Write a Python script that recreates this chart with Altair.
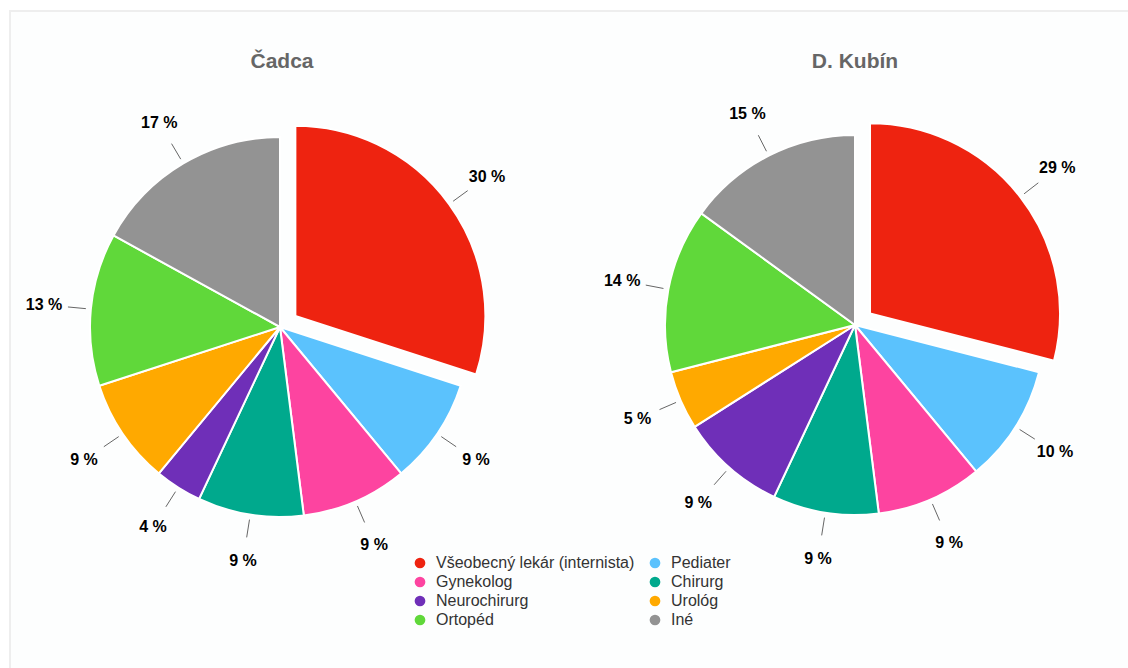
import altair as alt
import pandas as pd

cities = ["Čadca", "D. Kubín"]
categories = ["Všeobecný lekár (internista)", "Pediater", "Gynekolog", "Chirurg",
              "Neurochirurg", "Urológ", "Ortopéd", "Iné"]
cadca_values = [30, 9, 9, 9, 4, 9, 13, 17]
kubin_values = [29, 10, 9, 9, 9, 5, 14, 15]
colors = ["#ee2310", "#5bc2fd", "#fd44a0", "#00a98d", "#6f2fb8", "#ffa900", "#60d83a", "#939393"]

rows = []
for city, vals in zip(cities, [cadca_values, kubin_values]):
    for j, (cat, v) in enumerate(zip(categories, vals)):
        rows.append({"city": city, "cat": cat, "ord": j, "value": v})
df = pd.DataFrame(rows)

# legend fills column by column: reorder so it reads row by row like the original
legend_order = categories[0::2] + categories[1::2]
legend_colors = [colors[categories.index(c)] for c in legend_order]

FONT = "Liberation Sans"
R = 190
EXPLODE = 19
first = categories[0]

base = (
    alt.Chart(df)
    .transform_joinaggregate(total="sum(value)", groupby=["city"])
    .transform_window(cum="sum(value)", sort=[alt.SortField("ord")], groupby=["city"], frame=[None, 0])
    .transform_calculate(f0="(datum.cum - datum.value) / datum.total")
    .transform_calculate(f1="datum.cum / datum.total")
    .transform_calculate(mid="PI * (datum.f0 + datum.f1)")
    .transform_calculate(cx="datum.city == 'Čadca' ? 280 : 855")
    .transform_calculate(cy="datum.city == 'Čadca' ? 327 : 325")
    .transform_calculate(ex=f"datum.cat == '{first}' ? {EXPLODE} : 0")
    .transform_calculate(px="datum.cx + datum.ex * sin(datum.mid)")
    .transform_calculate(py="datum.cy - datum.ex * cos(datum.mid)")
    .transform_calculate(lx="datum.px + 237 * sin(datum.mid)")
    .transform_calculate(ly="datum.py - 237 * cos(datum.mid)")
    .transform_calculate(c0x="datum.px + 195 * sin(datum.mid)")
    .transform_calculate(c0y="datum.py - 195 * cos(datum.mid)")
    .transform_calculate(c1x="datum.px + 213 * sin(datum.mid)")
    .transform_calculate(c1y="datum.py - 213 * cos(datum.mid)")
    .transform_calculate(label="datum.value + ' %'")
)

arcs = base.mark_arc(outerRadius=R, stroke="white", strokeWidth=2).encode(
    theta=alt.Theta("f0:Q", scale=alt.Scale(domain=[0, 1], range=[0, 6.283185307179586])),
    theta2="f1:Q",
    x=alt.X("px:Q", scale=None),
    y=alt.Y("py:Q", scale=None),
    color=alt.Color(
        "cat:N",
        scale=alt.Scale(domain=legend_order, range=legend_colors),
        legend=alt.Legend(
            title=None, orient="none", legendX=412, legendY=555, columns=2,
            symbolType="circle", symbolSize=115, symbolStrokeWidth=0,
            labelFontSize=16, labelFont=FONT, labelColor="#333333",
            labelLimit=400, rowPadding=3, columnPadding=12, labelOffset=8,
        ),
    ),
)

connectors = base.mark_rule(color="#666666", strokeWidth=1).encode(
    x=alt.X("c0x:Q", scale=None), y=alt.Y("c0y:Q", scale=None),
    x2="c1x:Q", y2="c1y:Q",
)

labels = base.mark_text(font=FONT, fontSize=16, fontWeight="bold", color="#000000",
                        align="center", baseline="middle").encode(
    x=alt.X("lx:Q", scale=None), y=alt.Y("ly:Q", scale=None), text="label:N"
)

titles = (
    alt.Chart(pd.DataFrame({"city": cities}))
    .transform_calculate(tx="datum.city == 'Čadca' ? 282 : 855")
    .mark_text(font=FONT, fontSize=21, fontWeight="bold", color="#666666",
               align="center", baseline="middle")
    .encode(x=alt.X("tx:Q", scale=None), y=alt.value(62), text="city:N")
)

frame = alt.Chart(pd.DataFrame({"a": [0]})).mark_rect(
    fill="#fdfefe", stroke="#eeeeee", strokeWidth=2
).encode(x=alt.value(10), x2=alt.value(1140), y=alt.value(11), y2=alt.value(700))

chart = (
    alt.layer(frame, arcs, connectors, labels, titles)
    .properties(width=1128, height=668, autosize=alt.AutoSizeParams(type="none"), padding=0,
                background="white")
    .configure_view(stroke=None)
)

chart.save("out.html", embed_options={"renderer": "svg", "actions": False})
